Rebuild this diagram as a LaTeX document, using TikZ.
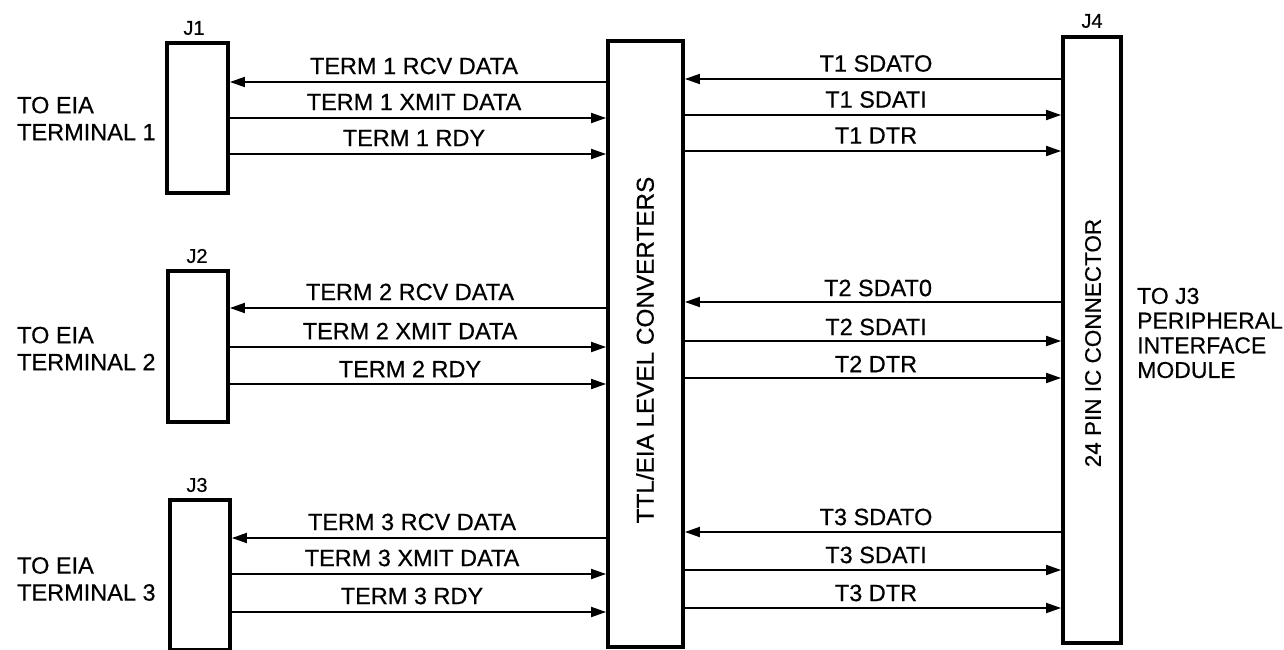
\documentclass[tikz,border=0pt]{standalone}
\usepackage{fontspec}
\setmainfont[FakeBold=0.5]{Liberation Sans}
\usetikzlibrary{arrows.meta}
\begin{document}
\begin{tikzpicture}[x=1pt,y=-1pt,
  box/.style={draw, line width=3.8pt, inner sep=0pt},
  sig/.style={line width=1.8pt, -{Triangle[length=15pt,width=10pt]}},
  lab/.style={font=\fontsize{23.5}{27}\selectfont, inner sep=0pt},
  jlab/.style={font=\fontsize{20}{22}\selectfont, inner sep=0pt},
  side/.style={font=\fontsize{23.5}{27}\selectfont, inner sep=0pt, align=left, anchor=west},
]
\useasboundingbox (0,0) rectangle (1284,650);

% boxes
\node[box, minimum width=61pt, minimum height=150pt] (j1) at (197.5,118) {};
\node[box, minimum width=60pt, minimum height=151pt] (j2) at (198,346.5) {};
\node[box, minimum width=60pt, minimum height=150pt] (j3) at (200,575) {};
\node[box, minimum width=75pt, minimum height=606pt] (ttl) at (645.5,344) {};
\node[box, minimum width=58pt, minimum height=606pt] (j4) at (1092,340) {};

% box titles
\node[jlab] (j1t) at (194,28) {J1};
\node[jlab] (j2t) at (197,256) {J2};
\node[jlab] (j3t) at (197,485) {J3};
\node[jlab] (j4t) at (1092,21) {J4};
\node[lab, rotate=90, font=\fontsize{24.3}{27}\selectfont] (ttlt) at (645,350) {TTL/EIA LEVEL CONVERTERS};
\node[lab, rotate=90, font=\fontsize{22.5}{27}\selectfont] (j4x) at (1093,343) {24 PIN IC CONNECTOR};

% side texts
\node[side] (s1) at (17,118.5) {TO EIA\\TERMINAL 1};
\node[side] (s2) at (17,348.5) {TO EIA\\TERMINAL 2};
\node[side] (s3) at (17,579) {TO EIA\\TERMINAL 3};
\node[side, font=\fontsize{23}{24.7}\selectfont] (s4) at (1137,333) {TO J3\\PERIPHERAL\\INTERFACE\\MODULE};

% left signals, group 1
\draw[sig] (ttl.west |- 0,82) -- (j1.east |- 0,82);
\draw[sig] (j1.east |- 0,118) -- (ttl.west |- 0,118);
\draw[sig] (j1.east |- 0,154) -- (ttl.west |- 0,154);
\node[lab] (l11) at (414,66) {TERM 1 RCV DATA};
\node[lab] (l12) at (414,102) {TERM 1 XMIT DATA};
\node[lab] (l13) at (414,138) {TERM 1 RDY};
% left signals, group 2
\draw[sig] (ttl.west |- 0,308) -- (j2.east |- 0,308);
\draw[sig] (j2.east |- 0,347) -- (ttl.west |- 0,347);
\draw[sig] (j2.east |- 0,384) -- (ttl.west |- 0,384);
\node[lab] (l21) at (410,292) {TERM 2 RCV DATA};
\node[lab] (l22) at (410,331) {TERM 2 XMIT DATA};
\node[lab] (l23) at (410,369) {TERM 2 RDY};
% left signals, group 3
\draw[sig] (ttl.west |- 0,538) -- (j3.east |- 0,538);
\draw[sig] (j3.east |- 0,574) -- (ttl.west |- 0,574);
\draw[sig] (j3.east |- 0,612) -- (ttl.west |- 0,612);
\node[lab] (l31) at (412,522) {TERM 3 RCV DATA};
\node[lab] (l32) at (412,558) {TERM 3 XMIT DATA};
\node[lab] (l33) at (412,596) {TERM 3 RDY};

% right signals, group 1
\draw[sig] (j4.west |- 0,79) -- (ttl.east |- 0,79);
\draw[sig] (ttl.east |- 0,115) -- (j4.west |- 0,115);
\draw[sig] (ttl.east |- 0,151) -- (j4.west |- 0,151);
\node[lab] (r11) at (876,63.5) {T1 SDATO};
\node[lab] (r12) at (876,99.5) {T1 SDATI};
\node[lab] (r13) at (876,135.5) {T1 DTR};
% right signals, group 2
\draw[sig] (j4.west |- 0,302) -- (ttl.east |- 0,302);
\draw[sig] (ttl.east |- 0,341) -- (j4.west |- 0,341);
\draw[sig] (ttl.east |- 0,378) -- (j4.west |- 0,378);
\node[lab] (r21) at (878,288) {T2 SDAT0};
\node[lab] (r22) at (876,327) {T2 SDATI};
\node[lab] (r23) at (876,364) {T2 DTR};
% right signals, group 3
\draw[sig] (j4.west |- 0,532) -- (ttl.east |- 0,532);
\draw[sig] (ttl.east |- 0,570) -- (j4.west |- 0,570);
\draw[sig] (ttl.east |- 0,608) -- (j4.west |- 0,608);
\node[lab] (r31) at (876,517) {T3 SDATO};
\node[lab] (r32) at (876,555) {T3 SDATI};
\node[lab] (r33) at (876,593) {T3 DTR};
\end{tikzpicture}
\end{document}
